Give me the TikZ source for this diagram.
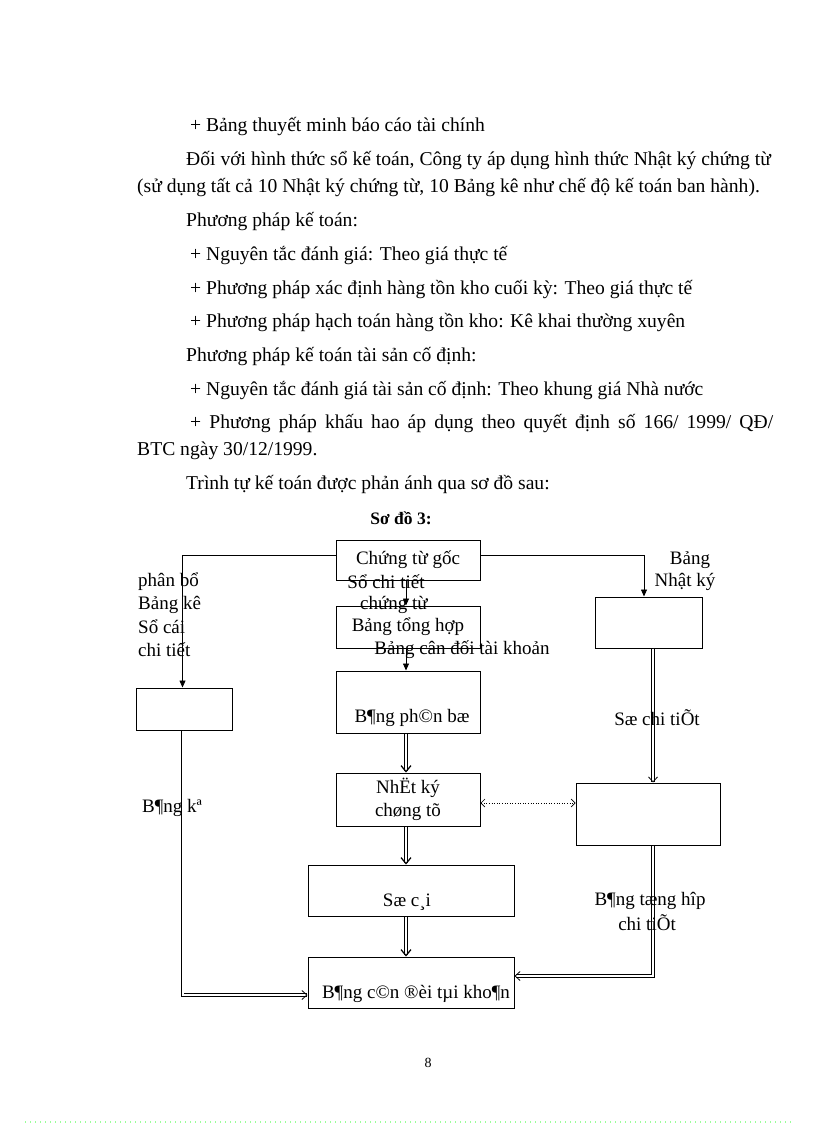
\documentclass[tikz,border=0pt]{standalone}
\usepackage{fontspec}
\setmainfont{Liberation Serif}
\usetikzlibrary{arrows.meta}
\begin{document}
\begin{tikzpicture}[x=1pt,y=-1pt,
  every node/.style={font=\fontsize{19}{23}\selectfont, inner sep=0pt},
  body/.style={anchor=base west, font=\fontsize{19.6}{23}\selectfont},
  lbl/.style={anchor=center},
  box/.style={draw, line width=1pt, inner sep=0pt, align=center},
  sarrow/.style={line width=0.8pt, -{Triangle[length=7pt,width=6pt]}},
  dblarrow/.style={double, double distance=2pt, line width=0.7pt, -{Straight Barb[line width=0.8pt,length=5pt,width=9pt]}},
  thickdbl/.style={double, double distance=2.2pt, line width=1.1pt, -{Straight Barb[line width=1.2pt,length=6pt,width=10pt]}},
  dotarrow/.style={line width=0.6pt, dotted, {Straight Barb[length=4pt,width=8pt]}-{Straight Barb[length=4pt,width=8pt]}}
]
\useasboundingbox (0,0) rectangle (816,1123);
\fill[white] (0,0) rectangle (816,1123);

% body text
\node[body] (t1) at (190,132) {+ Bảng thuyết minh báo cáo tài chính};
\node[body] (t2) at (186,166) {Đối với hình thức sổ kế toán, Công ty áp dụng hình thức Nhật ký chứng từ};
\node[body] (t3) at (137,193) {(sử dụng tất cả 10 Nhật ký chứng từ, 10 Bảng kê như chế độ kế toán ban hành).};
\node[body] (t4) at (186,226) {Phương pháp kế toán:};
\node[body] (t5) at (190,260) {+ Nguyên tắc đánh giá: Theo giá thực tế};
\node[body] (t6) at (190,294) {+ Phương pháp xác định hàng tồn kho cuối kỳ: Theo giá thực tế};
\node[body] (t7) at (190,327) {+ Phương pháp hạch toán hàng tồn kho: Kê khai thường xuyên};
\node[body] (t8) at (186,361) {Phương pháp kế toán tài sản cố định:};
\node[body] (t9) at (190,395) {+ Nguyên tắc đánh giá tài sản cố định: Theo khung giá Nhà nước};
\node[body] (t10) at (190,428) {\makebox[583pt][s]{+ Phương pháp khấu hao áp dụng theo quyết định số 166/ 1999/ QĐ/}};
\node[body] (t11) at (137,455) {BTC ngày 30/12/1999.};
\node[body] (t12) at (186,489) {Trình tự kế toán được phản ánh qua sơ đồ sau:};

\node[lbl, font=\fontsize{17.5}{20}\selectfont\bfseries] (title) at (401,518) {Sơ đồ 3:};

% boxes
\node[box, minimum width=144pt, minimum height=40pt] (goc) at (408,560) {Chứng từ gốc};
\node[box, minimum width=144pt, minimum height=42pt] (tonghop) at (408,627) {Bảng tổng hợp};
\node[box, minimum width=144pt, minimum height=62pt] (phanbo) at (408,702) {};
\node[box, minimum width=144pt, minimum height=53pt, font=\fontsize{19}{23}\selectfont] (nhatky) at (408,799.5) {NhËt ký\\chøng tõ};
\node[box, minimum width=206pt, minimum height=51pt] (socai) at (411,890.5) {};
\node[box, minimum width=206pt, minimum height=51pt] (candoi) at (411,982.5) {};
\node[box, minimum width=96pt, minimum height=42pt] (leftbox) at (184,709) {};
\node[box, minimum width=107pt, minimum height=51pt] (rbox1) at (648.5,622.5) {};
\node[box, minimum width=144pt, minimum height=62pt] (rbox2) at (648,814) {};

% connectors
\draw[sarrow] ([yshift=5pt]goc.west) -| ([xshift=-1.5pt]leftbox.north);
\draw[sarrow] ([yshift=5pt]goc.east) -| ([xshift=-4.5pt]rbox1.north);
\draw[sarrow] ([xshift=-2pt]goc.south) -- ([xshift=-2pt]tonghop.north);
\draw[sarrow] ([xshift=-2pt]tonghop.south) -- ([xshift=-2pt]phanbo.north);
\draw[thickdbl] ([xshift=-2pt]phanbo.south) -- ([xshift=-2pt]nhatky.north);
\draw[thickdbl] ([xshift=-2pt]nhatky.south) -- ([xshift=-5pt]socai.north);
\draw[thickdbl] ([xshift=-5pt]socai.south) -- ([xshift=-5pt]candoi.north);
\draw[dblarrow] ([xshift=-1.5pt]leftbox.south) |- ([yshift=-12.5pt]candoi.west);
\draw[dblarrow] ([xshift=4.5pt]rbox1.south) -- ([xshift=5pt]rbox2.north);
\draw[dblarrow] ([xshift=5pt]rbox2.south) |- ([yshift=6.5pt]candoi.east);
\draw[dotarrow] ([yshift=-3.5pt]nhatky.east) -- ([yshift=11pt]rbox2.west);

% labels
\node[anchor=west] (l1) at (138,582) {phân bổ};
\node[anchor=west] (l2) at (138,605) {Bảng kê};
\node[anchor=west] (l3) at (138,627) {Sổ cái};
\node[anchor=west] (l4) at (138,650) {chi tiết};
\node[lbl] (l5) at (386,582) {Sổ chi tiết};
\node[lbl] (l6) at (394,605) {chứng từ};
\node[lbl] (l7) at (462,650) {Bảng cân đối tài khoản};
\node[lbl] (l8) at (690,560) {Bảng};
\node[lbl] (l9) at (685,582) {Nhật ký};
\node[lbl] (l10) at (412,718) {B¶ng ph©n bæ};
\node[lbl] (l11) at (657,718) {Sæ chi tiÕt};
\node[lbl] (l12) at (172,808) {B¶ng kª};
\node[lbl] (l13) at (407,902) {Sæ c¸i};
\node[lbl] (l14) at (416,994) {B¶ng c©n ®èi tµi kho¶n};
\node[lbl] (l15) at (650,901) {B¶ng tæng hîp};
\node[lbl] (l16) at (647,923) {chi tiÕt};

\node[lbl, font=\fontsize{14}{16}\selectfont] (pg) at (428,1063) {8};
\draw[green!40, line width=1.2pt, dash pattern=on 0.8pt off 4.2pt] (25,1122) -- (792,1122);
\end{tikzpicture}
\end{document}
